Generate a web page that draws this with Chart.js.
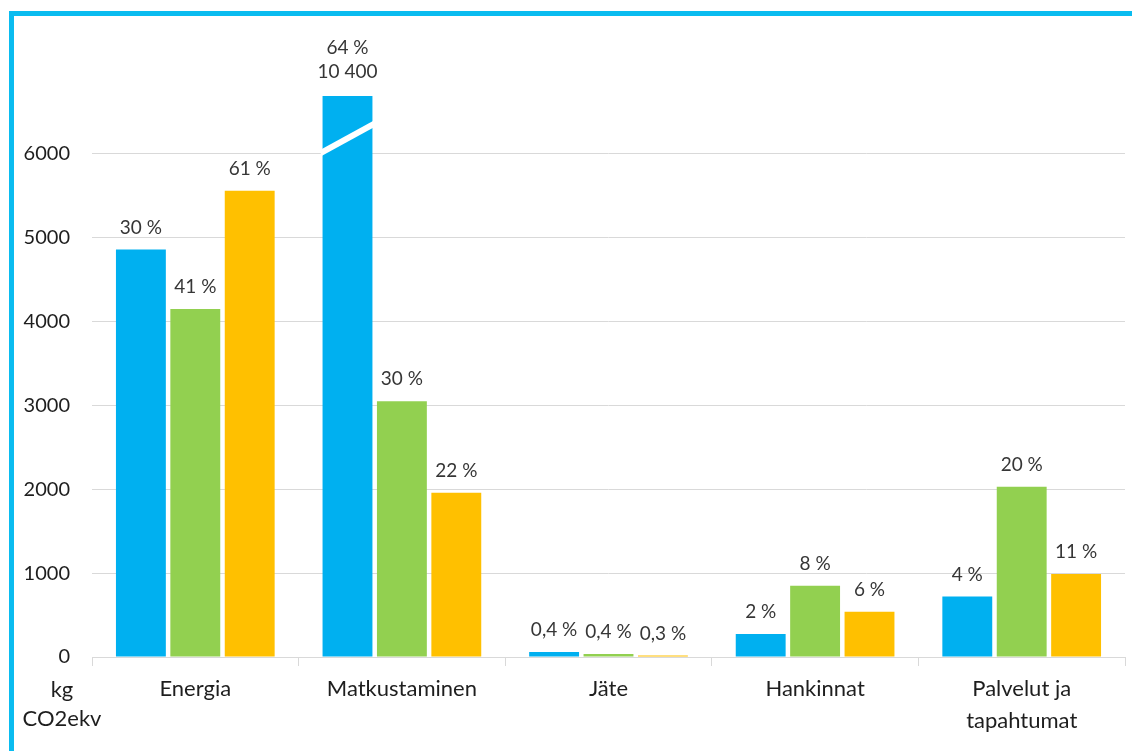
<!DOCTYPE html>
<html>
<head>
<meta charset="utf-8">
<script src="https://cdn.jsdelivr.net/npm/chart.js@4"></script>
<style>
  body { margin: 0; background: #fff; }
  #wrap { position: relative; width: 1132px; height: 751px; overflow: hidden; }
  #frame {
    position: absolute; left: 9px; top: 11px; right: 0; bottom: 0;
    border-top: 5px solid #0abcf0; border-left: 5px solid #0abcf0;
  }
  canvas { position: absolute; left: 0; top: 0; }
</style>
</head>
<body>
<div id="wrap">
  <div id="frame"></div>
  <canvas id="chart" width="1132" height="751"></canvas>
</div>
<script>
const categories = ["Energia", "Matkustaminen", "Jäte", "Hankinnat", ["Palvelut ja", "tapahtumat"]];
const blueValues = [4860, 10400, 60, 275, 720];
const greenValues = [4150, 3050, 35, 850, 2030];
const yellowValues = [5560, 1960, 18, 540, 990];
const bluePct = ["30 %", "64 %", "0,4 %", "2 %", "4 %"];
const greenPct = ["41 %", "30 %", "0,4 %", "8 %", "20 %"];
const yellowPct = ["61 %", "22 %", "0,3 %", "6 %", "11 %"];
const yMax = 7000;
const yStep = 1000;
const breakCap = 6690; // cut bar is drawn up to this value
const breakBand = [6020, 6350]; // white cut line, left / right end (value)
const unitLabel = ["kg", "CO2ekv"];

const FONT = "Lato";

const cutBar = (values) => values.map((v) => Math.min(v, breakCap));

// percent labels above bars, plus the real value on the cut bar
const barLabels = {
  id: "barLabels",
  afterDatasetsDraw(chart) {
    const ctx = chart.ctx;
    const labels = [bluePct, greenPct, yellowPct];
    const raw = [blueValues, greenValues, yellowValues];
    ctx.save();
    ctx.font = "19px " + FONT;
    ctx.fillStyle = "#363636";
    ctx.textAlign = "center";
    ctx.textBaseline = "middle";
    chart.data.datasets.forEach((ds, di) => {
      chart.getDatasetMeta(di).data.forEach((bar, i) => {
        if (raw[di][i] > breakCap) {
          ctx.fillText(raw[di][i].toLocaleString("fi-FI").replace(/\s/g, " "), bar.x, bar.y - 24);
          ctx.fillText(labels[di][i], bar.x, bar.y - 48);
        } else {
          ctx.fillText(labels[di][i], bar.x, bar.y - 22);
        }
      });
    });
    ctx.restore();
  },
};

// white diagonal cut on the bar that goes off scale + unit label
const axisBreak = {
  id: "axisBreak",
  afterDatasetsDraw(chart) {
    const ctx = chart.ctx;
    const y = chart.scales.y;
    chart.getDatasetMeta(0).data.forEach((bar, i) => {
      if (blueValues[i] <= breakCap) return;
      const half = bar.width / 2;
      const yl = y.getPixelForValue(breakBand[0]);
      const yr = y.getPixelForValue(breakBand[1]);
      ctx.save();
      ctx.strokeStyle = "#fff";
      ctx.lineWidth = 6;
      ctx.beginPath();
      ctx.moveTo(bar.x - half - 2, yl + 1);
      ctx.lineTo(bar.x + half + 2, yr - 1);
      ctx.stroke();
      ctx.restore();
    });
    const a = chart.chartArea;
    ctx.save();
    ctx.font = "22px " + FONT;
    ctx.fillStyle = "#1e1e1e";
    ctx.textAlign = "center";
    ctx.textBaseline = "middle";
    ctx.fillText(unitLabel[0], a.left - 30, a.bottom + 33);
    ctx.fillText(unitLabel[1], a.left - 30, a.bottom + 62);
    ctx.restore();
  },
};

new Chart(document.getElementById("chart"), {
  type: "bar",
  data: {
    labels: categories,
    datasets: [
      { data: cutBar(blueValues), backgroundColor: "#00b0f0" },
      { data: greenValues, backgroundColor: "#92d050" },
      { data: yellowValues, backgroundColor: "#ffc000" },
    ],
  },
  options: {
    responsive: false,
    animation: false,
    devicePixelRatio: 1,
    categoryPercentage: 0.79,
    barPercentage: 0.917,
    layout: { padding: { left: 0, right: 7, top: 70, bottom: 0 } },
    plugins: { legend: { display: false }, tooltip: { enabled: false } },
    scales: {
      x: {
        grid: {
          offset: true,
          drawOnChartArea: false,
          color: "#d9d9d9",
          tickLength: 9,
        },
        border: { color: "#d9d9d9" },
        ticks: {
          color: "#1e1e1e",
          font: { family: FONT, size: 22, lineHeight: 1.45 },
          padding: 7,
          maxRotation: 0,
          autoSkip: false,
        },
        afterFit: (s) => { s.height = 94; },
      },
      y: {
        min: 0,
        max: yMax,
        grid: {
          color: (c) => (c.tick && c.tick.value >= yMax ? "rgba(0,0,0,0)" : "#d9d9d9"),
          drawTicks: false,
        },
        border: { display: false },
        ticks: {
          stepSize: yStep,
          color: "#1e1e1e",
          font: { family: FONT, size: 20 },
          padding: 22,
          callback: (v) => (v >= yMax ? "" : v),
        },
        afterFit: (s) => { s.width = 92; },
      },
    },
  },
  plugins: [barLabels, axisBreak],
});
</script>
</body>
</html>
